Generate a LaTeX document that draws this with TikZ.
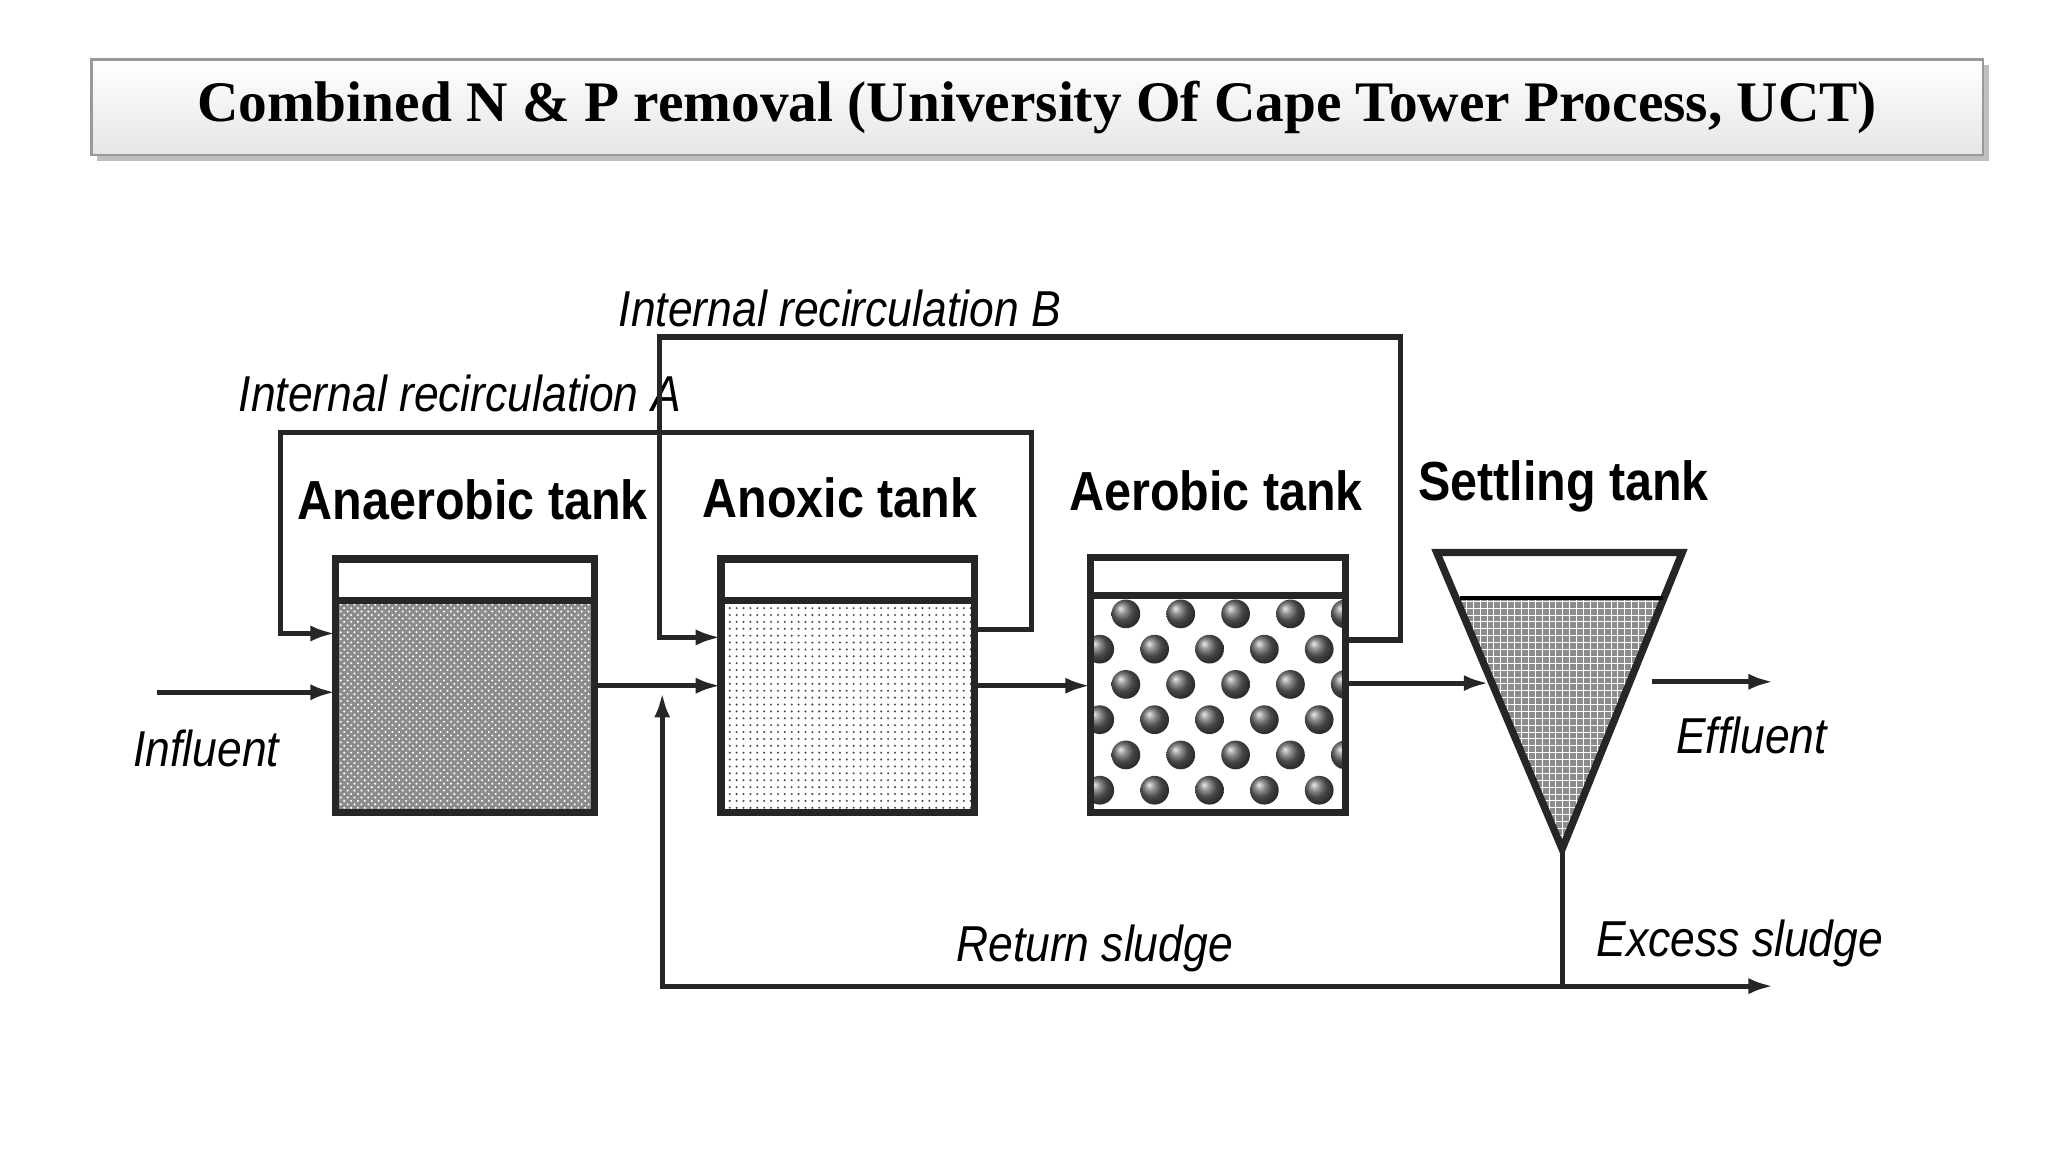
\documentclass[tikz,border=0pt]{standalone}
\usepackage{fontspec}
\setmainfont{Liberation Sans}
\newfontfamily\ttl{Liberation Serif}
\usetikzlibrary{arrows.meta,patterns,shadows}
\begin{document}
\begin{tikzpicture}[x=0.02cm,y=-0.02cm,
  ln/.style={line width=2.2pt,black!85},
  ar/.style={ln,-{Latex[length=11pt,width=7pt]}},
  tank/.style={line width=3.2pt,black!85},
  lab/.style={font=\fontsize{22}{24}\selectfont\itshape,xscale=0.88},
  tl/.style={font=\fontsize{24}{26}\selectfont\bfseries,xscale=0.88}]
\useasboundingbox (0,0) rectangle (1568,882);
% title
\node[draw=black!40,line width=1pt,top color=white,bottom color=black!10,drop shadow,minimum width=1448*0.02cm,minimum height=73*0.02cm] (title) at (794,82)
  {\ttl\bfseries\fontsize{25}{28}\selectfont Combined N \& P removal (University Of Cape Tower Process, UCT)};
% anaerobic
\fill[black!45] (257,460) rectangle (455,622);
\fill[pattern=crosshatch dots,pattern color=white!70] (257,460) rectangle (455,622);
\draw[tank] (257,428) rectangle (455,622);
\draw[tank] (257,460) -- (455,460);
\coordinate (anaL) at (257,530); \coordinate (anaR) at (455,525);
% anoxic
\fill[pattern=dots,pattern color=black!70] (552,460) rectangle (746,622);
\draw[tank] (552,428) rectangle (746,622);
\draw[tank] (552,460) -- (746,460);
% aerobic
\begin{scope}
\clip (835,456) rectangle (1030,622);
\foreach \r in {0,...,6}{
  \pgfmathsetmacro{\yy}{470+\r*27}
  \pgfmathsetmacro{\off}{mod(\r,2)==0 ? 862 : 842}
  \foreach \c in {0,...,4}{
    \shade[ball color=black!60] (\off+\c*42,\yy) circle (11);
  }}
\end{scope}
\draw[tank] (835,427) rectangle (1030,622);
\draw[tank] (835,456) -- (1030,456);
% settling
\begin{scope}
\clip (1100,423) -- (1288,423) -- (1196,650) -- cycle;
\fill[black!45] (1100,458) rectangle (1288,650);
\fill[pattern=grid,pattern color=white!80] (1100,458) rectangle (1288,650);
\end{scope}
\draw[tank,line join=miter] (1100,423) -- (1288,423) -- (1196,650) -- cycle;
\draw[line width=1.5pt] (1118,458) -- (1273,458);
% labels
\node[tl] (t1) at (362,383) {Anaerobic tank};
\node[tl] (t2) at (643,381) {Anoxic tank};
\node[tl] (t3) at (931,376) {Aerobic tank};
\node[tl] (t4) at (1197,372) {Settling tank};
\node[lab] (l1) at (158,573) {Influent};
\node[lab] (l2) at (1341,563) {Effluent};
\node[lab] (l3) at (352,301) {Internal recirculation A};
\node[lab] (l4) at (643,236) {Internal recirculation B};
\node[lab] (l5) at (838,726) {Return sludge};
\node[lab] (l6) at (1332,722) {Excess sludge};
% coordinates
\coordinate (in0) at (120,530); \coordinate (in1) at (257,530);
\coordinate (a1) at (455,525); \coordinate (a2) at (552,525);
\coordinate (b1) at (746,525); \coordinate (b2) at (835,525);
\coordinate (c1) at (1030,523); \coordinate (c2) at (1140,523);
\coordinate (e1) at (1265,522); \coordinate (e2) at (1358,522);
\coordinate (rA0) at (746,482); \coordinate (rA1) at (257,485);
\coordinate (rB0) at (1030,490); \coordinate (rB1) at (552,488);
\coordinate (sb) at (1196,650); \coordinate (sj) at (1196,755);
\coordinate (ex) at (1358,755); \coordinate (rs) at (507,530);
% arrows
\draw[ar] (in0) -- (in1);
\draw[ar] (a1) -- (a2);
\draw[ar] (b1) -- (b2);
\draw[ar] (c1) -- (c2);
\draw[ar] (e1) -- (e2);
\draw[ar] (rA0) -- (790,482) -- (790,331) -- (215,331) -- (215,485) -- (rA1);
\draw[ar] (rB0) -- (1072,490) -- (1072,258) -- (505,258) -- (505,488) -- (rB1);
\draw[ln] (sb) -- (sj);
\draw[ar] (sj) -- (507,755) -- (rs);
\draw[ar] (sj) -- (ex);
\end{tikzpicture}
\end{document}
